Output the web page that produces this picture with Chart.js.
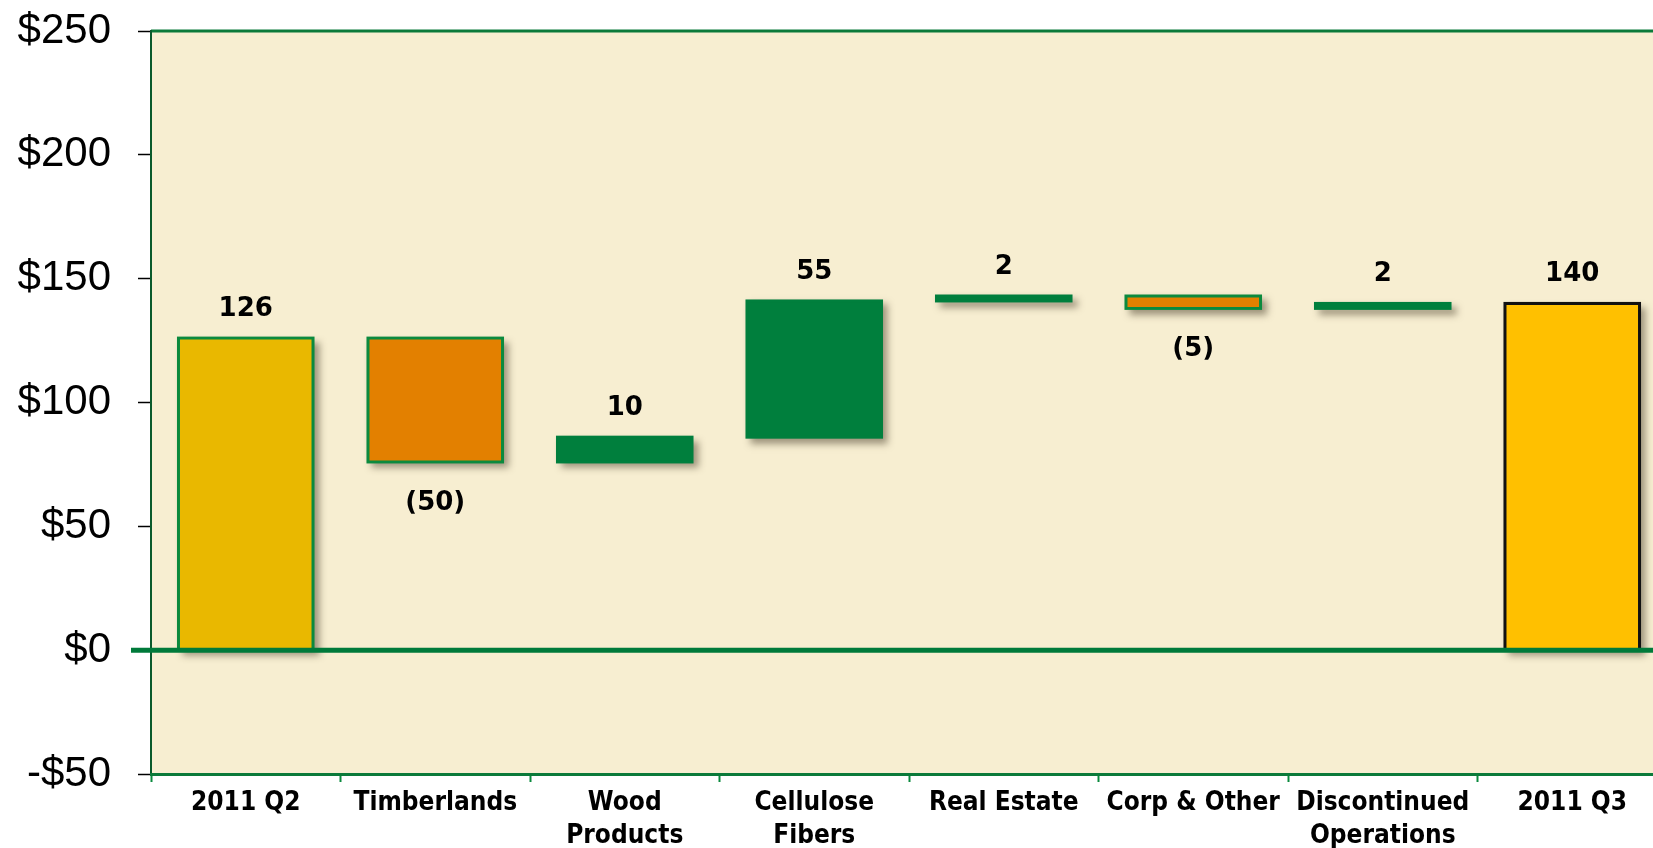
<!DOCTYPE html>
<html>
<head>
<meta charset="utf-8">
<script src="https://cdn.jsdelivr.net/npm/chart.js@4.4.1/dist/chart.umd.min.js"></script>
<style>
  html, body { margin: 0; padding: 0; background: #fff; overflow: hidden; }
  #wrap { width: 1680px; height: 848px; }
</style>
</head>
<body>
<div id="wrap"><canvas id="grafico" width="1680" height="848"></canvas></div>
<script>
// datos del puente 2011 Q2 -> 2011 Q3
const categorias = ['2011 Q2', 'Timberlands', ['Wood', 'Products'], ['Cellulose', 'Fibers'],
  'Real Estate', 'Corp & Other', ['Discontinued', 'Operations'], '2011 Q3']
const valorInicial = 126
const variaciones = [-50, 10, 55, 2, -5, 2]
const valorFinal = 140
const etiquetas = ['126', '(50)', '10', '55', '2', '(5)', '2', '140']
const ticksY = [-50, 0, 50, 100, 150, 200, 250]

// armar barras flotantes
let rangos = [[0, valorInicial]]
let acum = valorInicial
variaciones.forEach(v => {
  rangos.push([acum, acum + v])
  acum += v
})
rangos.push([0, valorFinal])

const VERDE = '#007F3D'
const coloresFondo = ['#E9B800', '#E38000', VERDE, VERDE, VERDE, '#E38000', VERDE, '#FFC000']
const coloresBorde = ['#0B8A3E', '#0B8A3E', VERDE, VERDE, VERDE, '#0B8A3E', VERDE, '#111111']

const pluginFondo = {
  id: 'fondo',
  beforeDraw(chart) {
    const {ctx, chartArea: a} = chart
    ctx.save()
    ctx.fillStyle = '#F7EED1'
    ctx.fillRect(a.left, a.top, a.right - a.left, a.bottom - a.top)
    ctx.strokeStyle = '#0B7A3A'
    ctx.lineWidth = 3
    ctx.beginPath()
    ctx.moveTo(a.left, a.top)
    ctx.lineTo(a.right, a.top)
    ctx.stroke()
    ctx.restore()
  },
  beforeDatasetsDraw(chart) {
    // sombra + borde centrado (la barra de chart.js se dibuja encima)
    const ctx = chart.ctx
    ctx.save()
    ctx.shadowColor = 'rgba(70,60,40,0.5)'
    ctx.shadowBlur = 7
    ctx.shadowOffsetX = 5
    ctx.shadowOffsetY = 5
    chart.getDatasetMeta(0).data.forEach((bar, i) => {
      const {x, y, base, width} = bar.getProps(['x', 'y', 'base', 'width'], true)
      const top = Math.min(y, base), h = Math.abs(base - y)
      ctx.fillStyle = coloresBorde[i]
      ctx.fillRect(x - width / 2 - 1.5, top - 1.5, width + 3, h + 3)
    })
    ctx.restore()
  },
  afterDatasetsDraw(chart) {
    const {ctx, chartArea: a, scales} = chart
    // linea del cero
    const y0 = scales.y.getPixelForValue(0)
    ctx.save()
    ctx.strokeStyle = '#007A3A'
    ctx.lineWidth = 5
    ctx.beginPath()
    ctx.moveTo(a.left - 20, y0)
    ctx.lineTo(a.right, y0)
    ctx.stroke()

    // etiquetas de valores
    ctx.fillStyle = '#000'
    ctx.font = 'bold 26px "DejaVu Sans", sans-serif'
    ctx.textAlign = 'center'
    ctx.textBaseline = 'middle'
    chart.getDatasetMeta(0).data.forEach((bar, i) => {
      const r = rangos[i]
      const arriba = Math.min(bar.y, bar.base)
      const abajo = Math.max(bar.y, bar.base)
      if (r[1] >= r[0]) ctx.fillText(etiquetas[i], bar.x, arriba - 29)
      else ctx.fillText(etiquetas[i], bar.x, abajo + 41)
    })
    ctx.restore()
  }
}

new Chart(document.getElementById('grafico'), {
  type: 'bar',
  data: {
    labels: categorias,
    datasets: [{
      data: rangos,
      backgroundColor: coloresFondo,
      borderColor: coloresBorde,
      borderWidth: 1.5,
      borderSkipped: false,
      barPercentage: 0.71,
      categoryPercentage: 1
    }]
  },
  options: {
    responsive: false,
    animation: false,
    devicePixelRatio: 1,
    layout: { padding: { left: 0, right: 13, top: 31, bottom: 0 } },
    scales: {
      y: {
        min: -50,
        max: 250,
        afterBuildTicks: s => { s.ticks = ticksY.map(v => ({value: v})) },
        afterFit: s => { s.width = 151 },
        ticks: {
          color: '#000',
          padding: 27,
          font: { family: '"Liberation Sans", Arial, sans-serif', size: 42, lineHeight: 0.1 },
          callback: v => v < 0 ? '-$' + Math.abs(v) : '$' + v
        },
        grid: { drawOnChartArea: false, drawTicks: true, tickLength: 13, tickColor: '#000', tickWidth: 1.5 },
        border: { color: '#0A5A2C', width: 2 }
      },
      x: {
        afterFit: s => { s.height = 74 },
        ticks: {
          color: '#000',
          padding: 4,
          autoSkip: false,
          maxRotation: 0,
          minRotation: 0,
          font: { family: '"DejaVu Sans Condensed", sans-serif', size: 26, weight: 'bold', lineHeight: 1.3 }
        },
        grid: { drawOnChartArea: false, drawTicks: true, tickLength: 8, tickColor: '#0B8A3E', tickWidth: 2, offset: true },
        border: { color: '#0B7A3A', width: 3 }
      }
    },
    plugins: {
      legend: { display: false },
      tooltip: { enabled: false }
    }
  },
  plugins: [pluginFondo]
})
</script>
</body>
</html>
